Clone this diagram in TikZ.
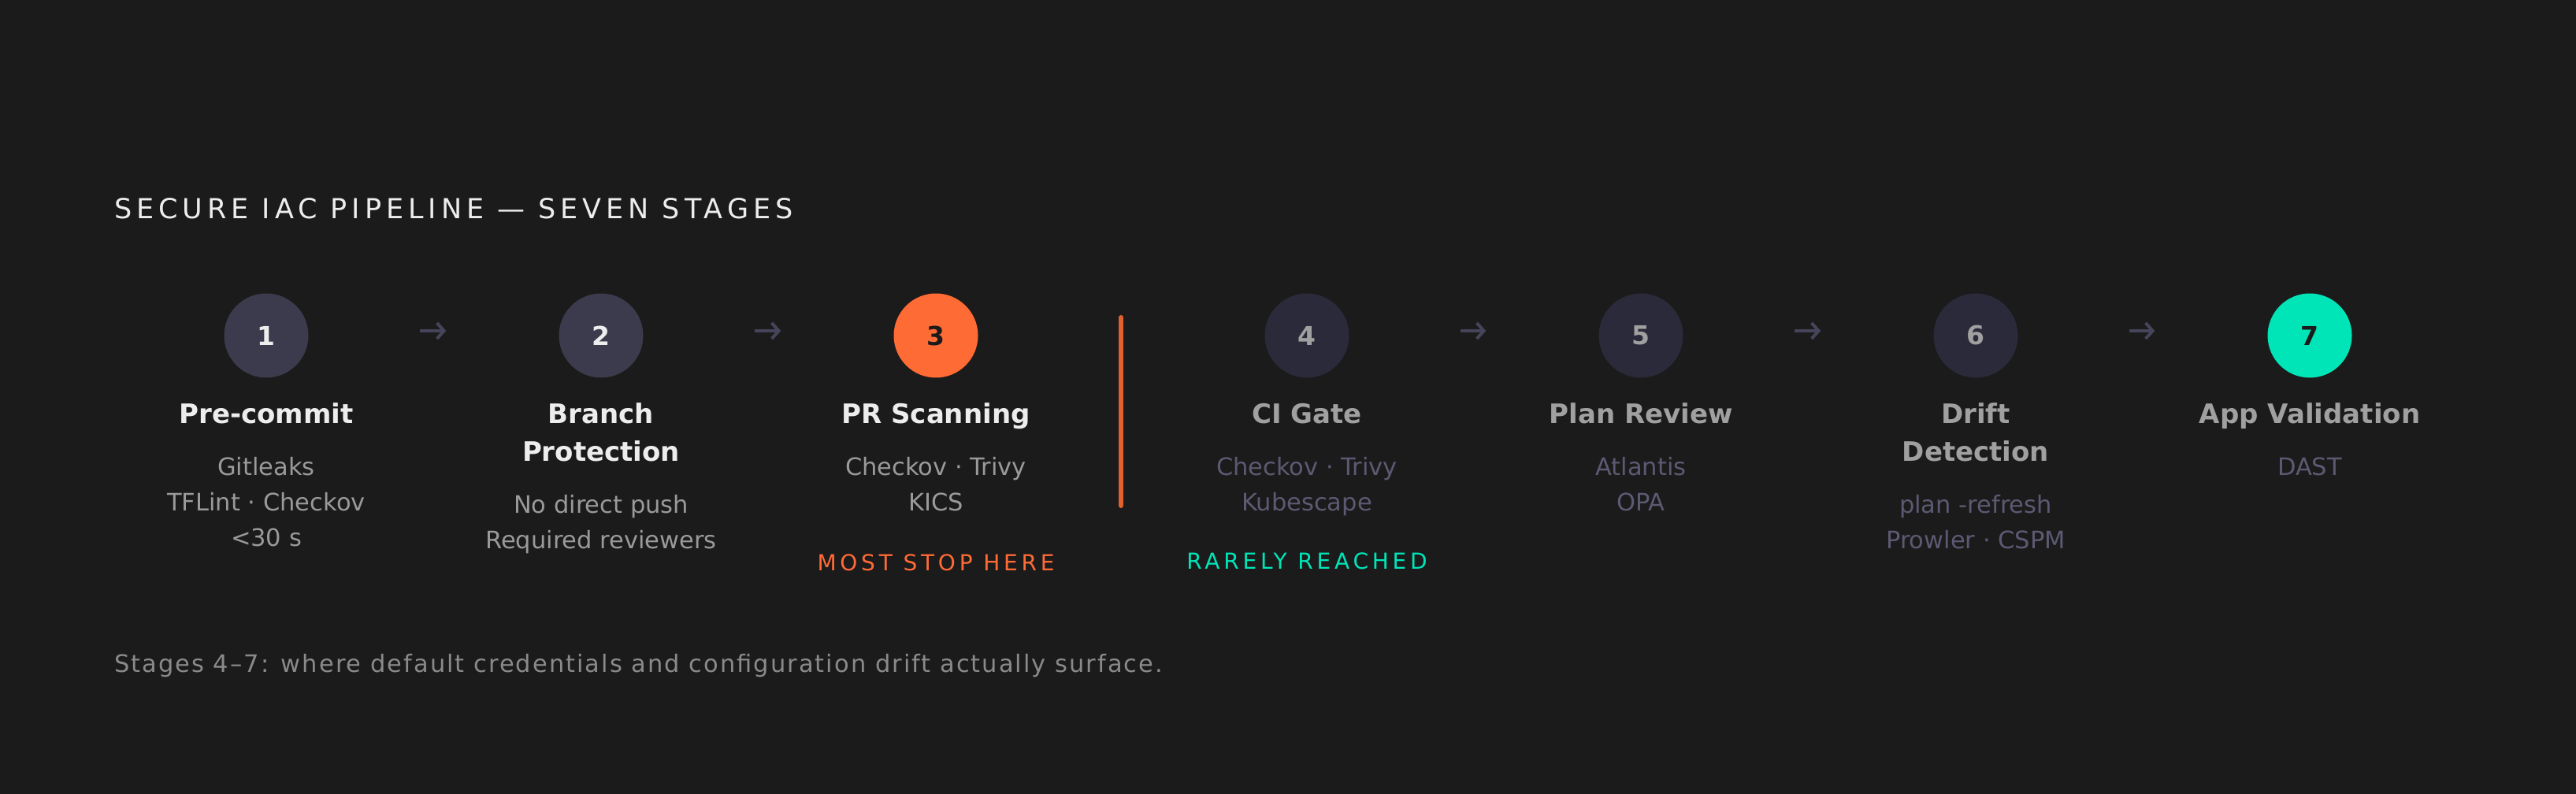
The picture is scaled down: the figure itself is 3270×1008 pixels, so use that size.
\documentclass[tikz,border=0pt]{standalone}
\usepackage{fontspec}
\setmainfont{DejaVu Sans}
\newfontfamily\hdrfont[LetterSpace=17]{DejaVu Sans}
\newfontfamily\lblfont[LetterSpace=17]{DejaVu Sans}
\newfontfamily\ftrfont[LetterSpace=6.6]{DejaVu Sans}
\usetikzlibrary{arrows.meta}
\definecolor{bg}{HTML}{1B1B1B}
\definecolor{circdim}{HTML}{3C3B4D}
\definecolor{circdark}{HTML}{2B2A3A}
\definecolor{accorange}{HTML}{FF6B35}
\definecolor{divorange}{HTML}{E0612E}
\definecolor{accteal}{HTML}{00E5B8}
\definecolor{arrowcol}{HTML}{45445B}
\definecolor{txtwhite}{HTML}{EDEDED}
\definecolor{txtgray}{HTML}{A0A0A0}
\definecolor{subgray}{HTML}{9A9A9A}
\definecolor{submuted}{HTML}{5C5A72}
\definecolor{ftrgray}{HTML}{8A8A8A}
\definecolor{numdark}{HTML}{1B1B1B}
\begin{document}
\begin{tikzpicture}[x=1pt,y=-1pt,
  circ/.style={circle, minimum size=107pt, inner sep=0pt, font=\fontsize{33}{33}\selectfont\bfseries},
  stitle/.style={anchor=base, align=center, inner sep=0pt, font=\fontsize{34}{48}\selectfont\bfseries},
  sdetail/.style={anchor=base, align=center, inner sep=0pt, font=\fontsize{30.5}{45}\selectfont},
  flow/.style={draw=arrowcol, line width=4pt, -{Straight Barb[length=9pt,width=20pt]}, shorten <=141pt, shorten >=143pt},
  stagelbl/.style={anchor=base, inner sep=0pt, font=\fontsize{28}{28}\lblfont}
]
\useasboundingbox (0,0) rectangle (3270,1008);
\fill[bg] (0,0) rectangle (3270,1008);

% header
\node[anchor=base west, inner sep=0pt, text=txtwhite, font=\fontsize{35}{35}\hdrfont] (hdr) at (145,278) {SECURE IAC PIPELINE — SEVEN STAGES};

% circles
\node[circ, fill=circdim, text=txtwhite] (c1) at (338,426) {1};
\node[circ, fill=circdim, text=txtwhite] (c2) at (763,426) {2};
\node[circ, fill=accorange, text=numdark] (c3) at (1188,426) {3};
\node[circ, fill=circdark, text=txtgray] (c4) at (1659,426) {4};
\node[circ, fill=circdark, text=txtgray] (c5) at (2083,426) {5};
\node[circ, fill=circdark, text=txtgray] (c6) at (2508,426) {6};
\node[circ, fill=accteal, text=numdark] (c7) at (2932,426) {7};

% arrows
\draw[flow] ([yshift=6pt]c1.east) -- ([yshift=6pt]c2.west);
\draw[flow] ([yshift=6pt]c2.east) -- ([yshift=6pt]c3.west);
\draw[flow] ([yshift=6pt]c4.east) -- ([yshift=6pt]c5.west);
\draw[flow] ([yshift=6pt]c5.east) -- ([yshift=6pt]c6.west);
\draw[flow] ([yshift=6pt]c6.east) -- ([yshift=6pt]c7.west);

% divider
\coordinate (dtop) at (1423,403);
\coordinate (dbot) at (1423,642);
\draw[divorange, line width=6pt, line cap=round] (dtop) -- (dbot);

% titles (anchor = baseline of last line)
\node[stitle, text=txtwhite] (t1) at (338,537) {Pre-commit};
\node[stitle, text=txtwhite] (t2) at (763,585) {Branch\\Protection};
\node[stitle, text=txtwhite] (t3) at (1188,537) {PR Scanning};
\node[stitle, text=txtgray] (t4) at (1659,537) {CI Gate};
\node[stitle, text=txtgray] (t5) at (2083,537) {Plan Review};
\node[stitle, text=txtgray] (t6) at (2508,585) {Drift\\Detection};
\node[stitle, text=txtgray] (t7) at (2932,537) {App Validation};

% details (anchor = baseline of last line)
\node[sdetail, text=subgray] (d1) at (338,693) {Gitleaks\\TFLint · Checkov\\<30 s};
\node[sdetail, text=subgray] (d2) at (763,696) {No direct push\\Required reviewers};
\node[sdetail, text=subgray] (d3) at (1188,648) {Checkov · Trivy\\KICS};
\node[sdetail, text=submuted] (d4) at (1659,648) {Checkov · Trivy\\Kubescape};
\node[sdetail, text=submuted] (d5) at (2083,648) {Atlantis\\OPA};
\node[sdetail, text=submuted] (d6) at (2508,696) {plan -refresh\\Prowler · CSPM};
\node[sdetail, text=submuted] (d7) at (2932,603) {DAST};

% stage labels
\node[stagelbl, text=accorange] (l3) at (1188,724) {MOST STOP HERE};
\node[stagelbl, text=accteal] (l4) at (1659,722) {RARELY REACHED};

% footer
\node[anchor=base west, inner sep=0pt, text=ftrgray, font=\fontsize{30.5}{30.5}\ftrfont] (ftr) at (145,853) {Stages 4–7: where default credentials and configuration drift actually surface.};
\end{tikzpicture}
\end{document}
